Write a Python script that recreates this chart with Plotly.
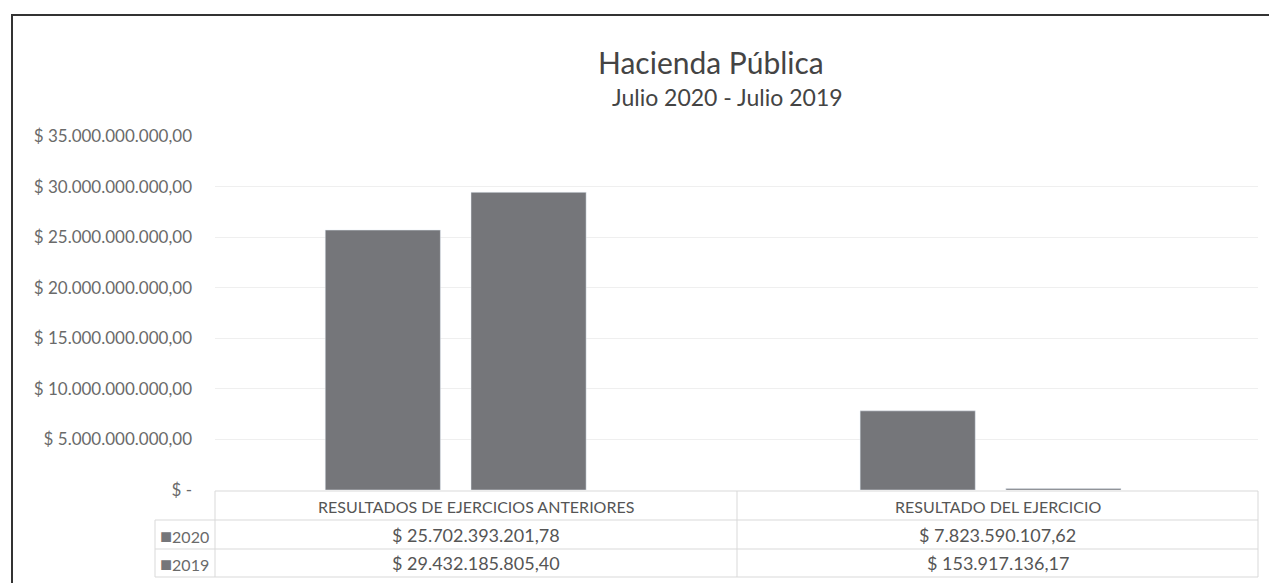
import plotly.graph_objects as go

# datos del gráfico
categorias = ["RESULTADOS DE EJERCICIOS ANTERIORES", "RESULTADO DEL EJERCICIO"]
anios = ["2020", "2019"]
valores_2020 = [25702393201.78, 7823590107.62]
valores_2019 = [29432185805.40, 153917136.17]
ticks_y = [0, 5e9, 10e9, 15e9, 20e9, 25e9, 30e9, 35e9]

W, H = 1269, 583
ML, MR, MT, MB = 215, 11, 136, 93
GRIS = "#75767a"
TXT = "#6a6a6a"
FUENTE = "Lato"


def pesos(v):
    if v == 0:
        return "$ -"
    s = f"{v:,.2f}"
    s = s.replace(",", "X").replace(".", ",").replace("X", ".")
    return "$ " + s


def px_x(p):
    return (p - ML) / (W - ML - MR)


def px_y(p):
    return (H - MB - p) / (H - MT - MB)


def texto(fig, t, x, y, size, color, xanchor="center"):
    fig.add_annotation(text=t, x=x, y=y, xref="paper", yref="paper", showarrow=False,
                       xanchor=xanchor, yanchor="middle", font=dict(size=size, color=color))


fig = go.Figure()
fig.add_trace(go.Bar(x=categorias, y=valores_2020, name=anios[0], marker_color=GRIS))
fig.add_trace(go.Bar(x=categorias, y=valores_2019, name=anios[1], marker_color=GRIS))

fig.update_layout(
    width=W, height=H,
    margin=dict(l=ML, r=MR, t=MT, b=MB),
    paper_bgcolor="white", plot_bgcolor="white",
    barmode="group", bargap=0.455, bargroupgap=0.21,
    showlegend=False,
    font=dict(family=FUENTE, color=TXT),
)
fig.update_yaxes(
    range=[0, 35e9], tickvals=ticks_y, ticktext=[pesos(v) for v in ticks_y],
    tickfont=dict(size=17, color=TXT), showgrid=True, gridcolor="#efefef",
    zeroline=False, ticks="", ticklabelstandoff=22,
)
fig.update_xaxes(range=[-0.45, 1.5], showticklabels=False, showline=False, showgrid=False)

# título
texto(fig, "Hacienda Pública", px_x(711), px_y(62), 30, "#444444")
texto(fig, "Julio 2020 - Julio 2019", px_x(727), px_y(97), 23, "#444444")

# tabla de datos
filas_y = [506, 535, 563]
lineas_h = [491, 520, 549, 577]
col_px = [155, 215, 737, 1258]
col_x = [px_x(p) for p in col_px]
centros = [(col_x[1] + col_x[2]) / 2, (col_x[2] + col_x[3]) / 2]
LC = "#d9d9d9"
for i, yy in enumerate(lineas_h):
    x0 = col_x[1] if i == 0 else col_x[0]
    fig.add_shape(type="line", xref="paper", yref="paper", x0=x0, x1=col_x[3],
                  y0=px_y(yy), y1=px_y(yy), line=dict(color=LC, width=1))
for j, xx in enumerate(col_x):
    y0 = px_y(lineas_h[1]) if j == 0 else px_y(lineas_h[0])
    fig.add_shape(type="line", xref="paper", yref="paper", x0=xx, x1=xx,
                  y0=y0, y1=px_y(lineas_h[-1]), line=dict(color=LC, width=1))

for c, cx in zip(categorias, centros):
    texto(fig, c, cx, px_y(filas_y[0]), 16, "#555555")
for fila, (anio, vals) in enumerate(zip(anios, [valores_2020, valores_2019])):
    yy = px_y(filas_y[fila + 1])
    texto(fig, f"<span style='color:{GRIS};font-size:20px'>■</span>{anio}",
          px_x(158), yy, 16, TXT, xanchor="left")
    for cx, v in zip(centros, vals):
        texto(fig, pesos(v), cx, yy, 18, "#555555")

# marco exterior
fig.add_shape(type="rect", xref="paper", yref="paper", x0=px_x(12), x1=px_x(1290),
              y0=px_y(600), y1=px_y(15), line=dict(color="#333333", width=2))

fig.write_html("out.html", config={"displayModeBar": False},
               post_script="document.body.style.margin='0';")
